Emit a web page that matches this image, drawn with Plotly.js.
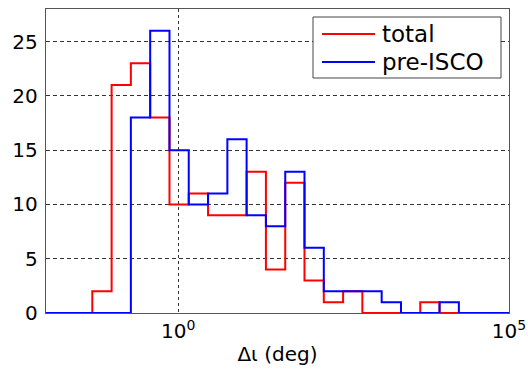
<!DOCTYPE html>
<html>
<head>
<meta charset="utf-8">
<script src="https://cdn.plot.ly/plotly-3.0.1.min.js"></script>
<style>html,body{margin:0;padding:0;background:#fff;}#chart{width:528px;height:376px;}</style>
</head>
<body>
<div id="chart"></div>
<script>
// Bin edges (log10 of Δι in deg)
const binEdgesLog10 = [-2.6, -1.300, -1.008, -0.717, -0.425, -0.133, 0.158, 0.450, 0.742, 1.033, 1.325,
  1.617, 1.908, 2.200, 2.492, 2.783, 3.075, 3.367, 3.658, 3.950, 4.242, 5.6];
// Counts per bin (one fewer than edges)
const totalCounts  = [0, 2, 21, 23, 18, 10, 11, 9, 9, 13, 4, 12, 3, 1, 2, 0, 0, 0, 1, 0, 0];
const preIscoCounts = [0, 0, 0, 18, 26, 15, 10, 11, 16, 9, 8, 13, 6, 2, 2, 2, 1, 0, 0, 1, 0];
const seriesNames = ['total', 'pre-ISCO'];
const seriesColors = ['#ff0000', '#0000ff'];
const yTicks = [0, 5, 10, 15, 20, 25];
const xTickVals = [1, 100000];
const xTickText = ['10<sup>0</sup>', '10<sup>5</sup>'];

const edges = binEdgesLog10.map(v => Math.pow(10, v));
function stairs(counts) {
  return { x: edges, y: counts.concat([counts[counts.length - 1]]) };
}

const FONT = 'DejaVu Sans, Liberation Sans, Arial, sans-serif';
const traces = [totalCounts, preIscoCounts].map((c, i) => {
  const s = stairs(c);
  return {
    type: 'scatter', mode: 'lines', name: seriesNames[i],
    x: s.x, y: s.y, line: { shape: 'hv', color: seriesColors[i], width: 2 },
    showlegend: false, hoverinfo: 'skip'
  };
});

// plot area in px: x 46..509, y 9..313
const P = { l: 46, r: 509, t: 9, b: 313 };
const px = x => (x - P.l) / (P.r - P.l);
const py = y => (P.b - y) / (P.b - P.t);

const shapes = [
  { type: 'rect', xref: 'paper', yref: 'paper', x0: px(313), x1: px(501), y0: py(78), y1: py(17),
    line: { color: '#444', width: 1 }, fillcolor: '#fff', layer: 'above' },
  { type: 'line', xref: 'paper', yref: 'paper', x0: px(322), x1: px(375), y0: py(34), y1: py(34),
    line: { color: seriesColors[0], width: 2 }, layer: 'above' },
  { type: 'line', xref: 'paper', yref: 'paper', x0: px(322), x1: px(375), y0: py(62), y1: py(62),
    line: { color: seriesColors[1], width: 2 }, layer: 'above' }
];
const annotations = [
  { xref: 'paper', yref: 'paper', x: px(380), y: py(34), xanchor: 'left', yanchor: 'middle',
    text: seriesNames[0], showarrow: false, font: { family: FONT, size: 23, color: '#000' } },
  { xref: 'paper', yref: 'paper', x: px(380), y: py(62), xanchor: 'left', yanchor: 'middle',
    text: seriesNames[1], showarrow: false, font: { family: FONT, size: 23, color: '#000' } }
];

const layout = {
  width: 528, height: 376,
  margin: { l: P.l, r: 528 - P.r, t: P.t, b: 376 - P.b },
  paper_bgcolor: '#fff', plot_bgcolor: '#fff',
  font: { family: FONT, size: 20, color: '#000' },
  showlegend: false,
  xaxis: {
    type: 'log', range: [-2, 5], tickmode: 'array', tickvals: xTickVals, ticktext: xTickText,
    showgrid: true, gridcolor: '#333', gridwidth: 1, griddash: '3px,3px',
    showline: true, linecolor: '#555', linewidth: 1.3, mirror: true, zeroline: false,
    ticks: '', tickfont: { family: FONT, size: 20, color: '#000' },
    title: { text: 'Δι (deg)', font: { family: FONT, size: 20, color: '#000' }, standoff: 4 },
    automargin: false, fixedrange: true
  },
  yaxis: {
    range: [0, 28], tickmode: 'array', tickvals: yTicks,
    showgrid: true, gridcolor: '#333', gridwidth: 1, griddash: '4px,3px',
    showline: true, linecolor: '#555', linewidth: 1.3, mirror: true, zeroline: false,
    ticks: '', ticklabelstandoff: 3, tickfont: { family: FONT, size: 20, color: '#000' },
    automargin: false, fixedrange: true
  },
  shapes: shapes, annotations: annotations
};

Plotly.newPlot('chart', traces, layout, { displayModeBar: false, staticPlot: true });
</script>
</body>
</html>
